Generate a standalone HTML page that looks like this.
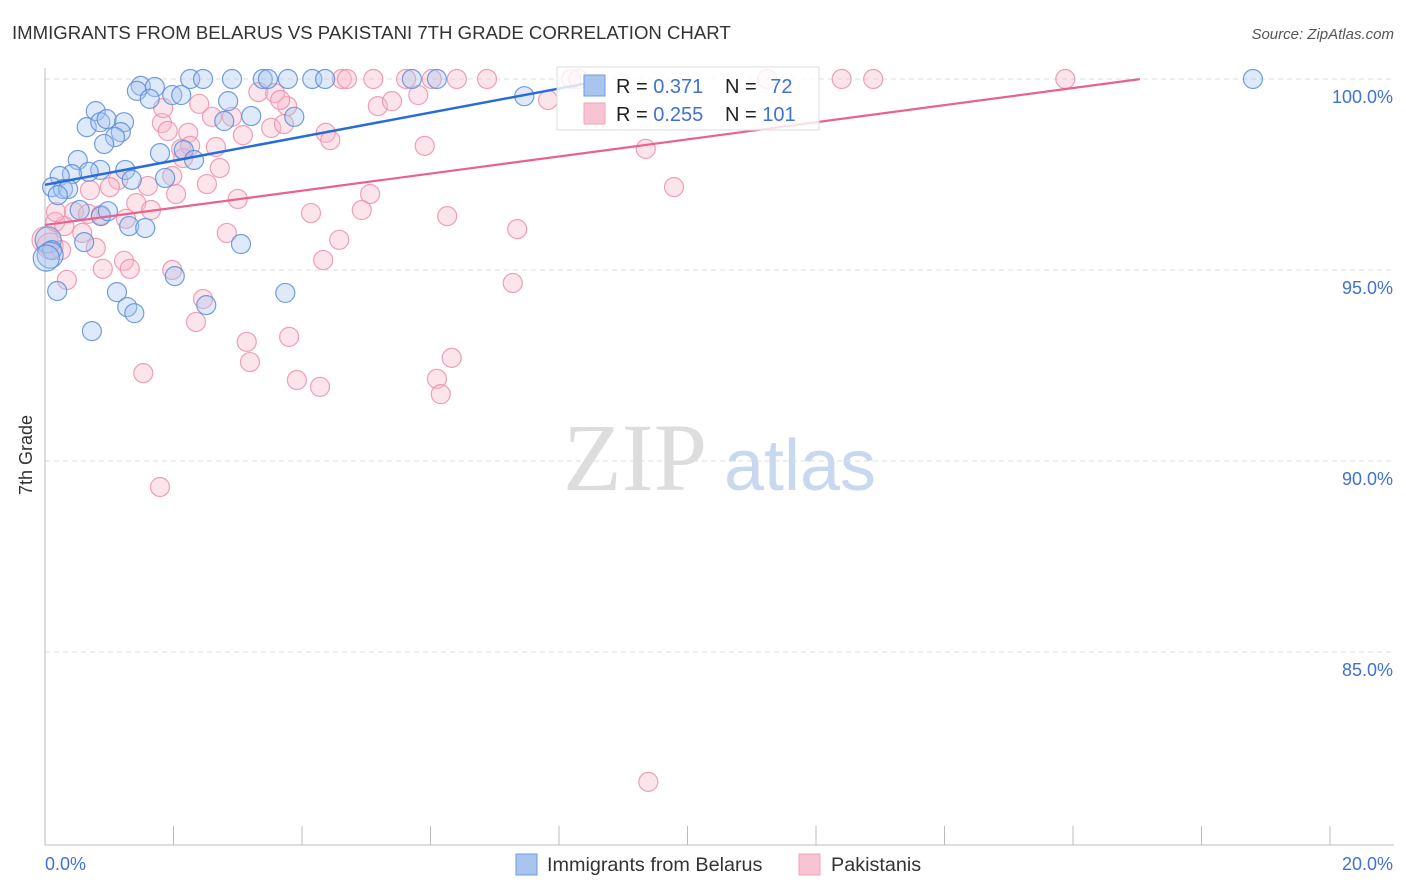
<!DOCTYPE html>
<html><head><meta charset="utf-8"><style>
body{margin:0;background:#fff;font-family:"Liberation Sans",sans-serif;}
svg{display:block}
</style></head><body>
<svg width="1406" height="892">
<text x="12" y="39" font-size="18.6" fill="#333">IMMIGRANTS FROM BELARUS VS PAKISTANI 7TH GRADE CORRELATION CHART</text>
<text x="1394" y="39" font-size="15" fill="#555" font-style="italic" text-anchor="end">Source: ZipAtlas.com</text>
<text x="32" y="455" font-size="18" fill="#333" transform="rotate(-90 32 455)" text-anchor="middle">7th Grade</text>
<g><text x="635" y="490" font-size="96" fill="#ddd" font-family="Liberation Serif" text-anchor="middle">ZIP</text><text x="800" y="490" font-size="72" fill="#c8d8ef" text-anchor="middle">atlas</text></g>
<g id="grid"></g><g id="axes"></g><g id="pts"></g><g id="trend"></g>
<g>
<rect x="557" y="67" width="262" height="63" fill="#fff" fill-opacity="0.8" stroke="#ddd"/>
<rect x="584" y="75" width="21" height="21" fill="#a9c5ef" stroke="#6e9be0"/>
<rect x="584" y="103" width="21" height="21" fill="#f8c3d2" stroke="#f0a3ba"/>
<text x="616" y="93" font-size="20" fill="#222">R = <tspan fill="#3f72d4">0.371</tspan></text>
<text x="725" y="93" font-size="20" fill="#222">N = <tspan fill="#3f72d4" dx="8">72</tspan></text>
<text x="616" y="121" font-size="20" fill="#222">R = <tspan fill="#3f72d4">0.255</tspan></text>
<text x="725" y="121" font-size="20" fill="#222">N = <tspan fill="#3f72d4">101</tspan></text>
</g>
<g>
<rect x="516" y="854" width="21" height="21" fill="#a9c5ef" stroke="#6e9be0"/>
<text x="547" y="871" font-size="19.8" fill="#333">Immigrants from Belarus</text>
<rect x="799" y="854" width="21" height="21" fill="#f8c3d2" stroke="#f0a3ba"/>
<text x="831" y="871" font-size="19.8" fill="#333">Pakistanis</text>
</g>
</svg>
<script>
const yTicks=[100,95,90,85];
const xTickLabels=["0.0%","20.0%"];
const blueX=[1.49,1.43,1.71,2.26,2.46,2.91,3.39,3.47,3.78,4.16,4.36,5.71,6.10,18.80,1.63,1.98,2.12,2.85,0.79,0.65,0.86,0.96,1.23,1.18,1.09,0.92,3.21,2.79,3.88,1.79,2.16,2.32,0.51,0.86,1.25,0.68,0.42,0.23,0.11,0.28,0.36,0.20,1.35,1.87,0.54,0.87,0.98,1.31,1.56,0.05,0.11,0.61,3.05,0.08,0.19,2.02,1.12,1.28,1.39,2.51,3.74,0.73,7.46,0.02];
const blueY=[99.82,99.69,99.79,100,100,100,100,100,100,100,100,100,100,100,99.48,99.58,99.58,99.42,99.16,98.74,98.87,98.95,98.87,98.61,98.48,98.30,99.03,98.90,99.01,98.06,98.14,97.88,97.88,97.62,97.62,97.57,97.51,97.46,97.17,97.12,97.12,96.96,97.36,97.41,96.57,96.41,96.54,96.15,96.10,95.79,95.52,95.73,95.68,95.39,94.45,94.84,94.42,94.03,93.87,94.08,94.40,93.40,99.55,95.31];
const pinkX=[3.32,3.58,4.62,4.70,5.11,5.62,6.02,6.41,6.88,8.19,8.30,11.24,12.40,12.89,15.88,5.81,5.18,5.40,7.83,2.40,3.77,1.82,1.91,2.23,2.60,2.91,3.08,3.52,3.72,4.37,4.44,5.91,9.35,2.12,2.26,2.66,2.15,2.72,1.14,1.60,1.01,2.04,2.52,3.00,5.06,9.79,1.42,1.65,0.45,0.67,0.87,1.26,4.14,4.93,6.26,7.35,0.16,0.30,0.58,2.83,4.58,0.0,0.08,0.25,0.79,4.33,1.23,0.90,1.32,1.98,0.34,7.28,2.46,2.35,3.14,3.80,3.19,1.53,3.92,4.28,6.10,6.33,6.16,1.79,9.39,0.17,0.70,1.84,1.98,3.66];
const pinkY=[99.66,99.63,100,100,100,100,100,100,100,100,100,100,100,100,100,99.58,99.29,99.42,99.45,99.35,99.29,98.85,98.64,98.59,99.01,99.01,98.53,98.72,98.82,98.59,98.40,98.25,98.17,98.17,98.25,98.22,97.93,97.67,97.36,97.20,97.17,96.99,97.25,96.86,96.99,97.17,96.75,96.57,96.52,96.47,96.44,96.34,96.49,96.57,96.41,96.07,96.26,96.15,95.97,95.97,95.79,95.79,95.63,95.52,95.58,95.26,95.24,95.03,95.03,95.00,94.74,94.66,94.24,93.64,93.12,93.25,92.59,92.30,92.12,91.94,92.15,92.70,91.75,89.32,81.60,96.52,97.09,99.24,97.46,99.45];
const blueTrend=[97.23,0.315,8.53];
const pinkTrend=[96.18,0.224,17.04];
const NS="http://www.w3.org/2000/svg";
const X=v=>45+v*64.25, Y=v=>79+(100-v)*38.2;
function mk(t,a,p){const e=document.createElementNS(NS,t);for(const k in a)e.setAttribute(k,a[k]);p.appendChild(e);return e;}
const grid=document.getElementById('grid'),axes=document.getElementById('axes');
yTicks.forEach(t=>{
 const l=mk('line',{x1:45,x2:1394,y1:Y(t),y2:Y(t),stroke:'#ddd','stroke-dasharray':'5,4'},grid);
 
 
 const tx=mk('text',{x:1393,y:Y(t)+24,'font-size':18,fill:'#3f72d4','text-anchor':'end'},axes);tx.textContent=t.toFixed(1)+'%';
 
 
});
mk('line',{x1:45,x2:45,y1:68,y2:845,stroke:'#bbb'},axes);
mk('line',{x1:45,x2:1394,y1:845,y2:845,stroke:'#bbb'},axes);
for(let i=0;i<=20;i+=2){const t=mk('line',{x1:X(i),x2:X(i),y1:826,y2:845,stroke:'#bbb'},axes);}
const xl0=mk('text',{x:45,y:870,'font-size':18,fill:'#3f72d4'},axes);xl0.textContent=xTickLabels[0];


const xl1=mk('text',{x:1393,y:870,'font-size':18,fill:'#3f72d4','text-anchor':'end'},axes);xl1.textContent=xTickLabels[1];


const pts=document.getElementById('pts');
function draw(xs,ys,fill,stroke,name){xs.forEach((x,i)=>{const r=x<0.1?13:9.5;
 const c=mk('circle',{cx:X(x),cy:Y(ys[i]),r:r,fill:fill,'fill-opacity':0.38,stroke:stroke,'stroke-width':1.2,'stroke-opacity':0.85},pts);
 
 });}
draw(pinkX,pinkY,'#f7b8ca','#ec8fac','pakistani-point');
draw(blueX,blueY,'#a9c5ef','#5a8ddb','belarus-point');
const tr=document.getElementById('trend');
const b=mk('line',{x1:X(0),y1:Y(blueTrend[0]),x2:X(blueTrend[2]),y2:Y(blueTrend[0]+blueTrend[1]*blueTrend[2]),stroke:'#2a6cd6','stroke-width':2.5},tr);


const p=mk('line',{x1:X(0),y1:Y(pinkTrend[0]),x2:X(pinkTrend[2]),y2:Y(pinkTrend[0]+pinkTrend[1]*pinkTrend[2]),stroke:'#e8628e','stroke-width':2.2},tr);


</script>
</body></html>
